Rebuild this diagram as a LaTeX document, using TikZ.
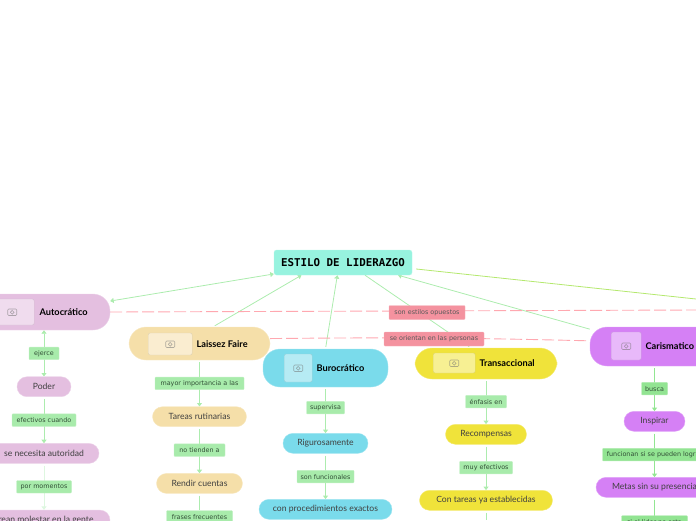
\documentclass[tikz,border=0pt]{standalone}
\usepackage{fontspec}
\setmainfont{Lato}
\newfontfamily\titlefont{DejaVu Sans Mono}
\newfontfamily\labelfont{DejaVu Sans}
\usetikzlibrary{arrows.meta,positioning,backgrounds}
\definecolor{titlecol}{RGB}{151,243,223}
\definecolor{autocol}{RGB}{228,191,224}
\definecolor{laissezcol}{RGB}{245,223,169}
\definecolor{burocol}{RGB}{122,219,235}
\definecolor{transcol}{RGB}{240,227,58}
\definecolor{cariscol}{RGB}{213,128,245}
\definecolor{labelcol}{RGB}{168,235,171}
\definecolor{labeldark}{RGB}{146,228,146}
\definecolor{linkcol}{RGB}{172,236,174}
\definecolor{linkdark}{RGB}{146,230,146}
\definecolor{linkpale}{RGB}{222,247,224}
\definecolor{outercol}{RGB}{180,232,110}
\definecolor{pinkcol}{RGB}{244,146,159}
\definecolor{dashcol}{RGB}{255,168,176}
\definecolor{labeltext}{RGB}{50,80,55}
\tikzset{
	head/.style={draw=#1!70!white, fill=#1, rounded corners=17pt, inner sep=0pt},
	sub/.style={draw=#1!70!white, fill=#1, rounded corners=10pt, minimum height=20pt, inner sep=0pt, font=\fontsize{8.6}{10}\selectfont, text=black!75},
	link/.style={draw=labelcol!70!white, fill=labelcol, minimum height=12.5pt, inner sep=0pt, rounded corners=0.8pt, font=\labelfont\fontsize{6.4}{8}\selectfont, text=labeltext},
	linkd/.style={link, fill=labeldark, draw=labeldark!70!white},
	pinklabel/.style={draw=pinkcol!70!white, fill=pinkcol, minimum height=14pt, inner sep=0pt, rounded corners=0.8pt, font=\labelfont\fontsize{6.4}{8}\selectfont, text=black!65},
	iconbox/.style={draw=#1!85!black!70!white, fill=#1!55!white, rounded corners=2pt, inner sep=0pt,
		path picture={\draw[#1!45!black!55!white, line width=0.6pt, rounded corners=1pt, shift={(path picture bounding box.center)}] (-4.5,-3) rectangle (4.5,3.5) (0,0.3) circle (1.9);}},
	headtext/.style={font=\bfseries\fontsize{9.2}{11}\selectfont, text=black, inner sep=0pt},
	conn/.style={draw=linkcol, line width=0.8pt, -{Triangle[width=5pt,length=3.5pt]}, shorten <=2pt},
	conndark/.style={conn, draw=linkdark},
	oppos/.style={draw=dashcol, line width=0.9pt, dash pattern=on 12pt off 4pt},
}
\begin{document}
\begin{tikzpicture}[x=1pt, y=-1pt, node distance=16.7pt]
	\useasboundingbox (0,0) rectangle (696,520);
	\clip (0,0) rectangle (696,520);
	\node[draw=titlecol!70!white, fill=titlecol, rounded corners=2.5pt, minimum width=138pt, minimum height=25pt, inner sep=0pt, font=\titlefont\bfseries\fontsize{10.8}{12}\selectfont] (title) at (343,262.5) {ESTILO DE LIDERAZGO};

	\node[head=autocol, minimum width=132pt, minimum height=36pt] (auto) at (44,312) {};
	\node[iconbox=autocol, minimum width=44pt, minimum height=26pt, anchor=west] (autoicon) at (-10,312) {};
	\node[headtext] (autotext) [right=5pt of autoicon] {Autocrático};
	\node[link, minimum width=30pt] (ejerce) [below=of auto] {ejerce};
	\node[sub=autocol, minimum width=54pt] (poder) [below=of ejerce] {Poder};
	\node[link, minimum width=64pt] (efectivos) [below=of poder] {efectivos cuando};
	\node[sub=autocol, minimum width=110pt] (autoridad) [below=of efectivos] {se necesita autoridad};
	\node[link, minimum width=55pt] (momentos) [below=of autoridad] {por momentos};
	\node[sub=autocol, minimum width=132pt] (molestar) [below=of momentos] {crean molestar en la gente};

	\node[head=laissezcol, minimum width=141pt, minimum height=33pt] (laissez) at (199.5,343.5) {};
	\node[iconbox=laissezcol, minimum width=44pt, minimum height=22pt, anchor=west] (laissezicon) at (148,344) {};
	\node[headtext] (laisseztext) [right=4pt of laissezicon] {Laissez Faire};
	\node[link, minimum width=89pt] (mayor) [below=of laissez] {mayor importancia a las};
	\node[sub=laissezcol, minimum width=94pt] (tareas) [below=of mayor] {Tareas rutinarias};
	\node[link, minimum width=51pt] (tienden) [below=of tareas] {no tienden a};
	\node[sub=laissezcol, minimum width=86pt] (rendir) [below=of tienden] {Rendir cuentas};
	\node[link, minimum width=66pt] (frases) [below=of rendir] {frases frecuentes};

	\node[head=burocol, minimum width=125pt, minimum height=38pt] (buro) at (325.5,368) {};
	\node[iconbox=burocol, minimum width=28pt, minimum height=28pt, anchor=west] (buroicon) at (284,368) {};
	\node[headtext] (burotext) [right=4pt of buroicon] {Burocrático};
	\node[link, minimum width=38pt] (supervisa) [below=14pt of buro] {supervisa};
	\node[sub=burocol, minimum width=85pt] (riguroso) [below=19pt of supervisa] {Rigurosamente};
	\node[link, minimum width=57pt] (funcionales) [below=of riguroso] {son funcionales};
	\node[sub=burocol, minimum width=133pt] (procedimientos) [below=16pt of funcionales] {con procedimientos exactos};

	\node[head=transcol, minimum width=142pt, minimum height=31pt] (trans) at (486,363.5) {};
	\node[iconbox=transcol, minimum width=42pt, minimum height=20pt, anchor=west] (transicon) at (433,363) {};
	\node[headtext] (transtext) [right=4pt of transicon] {Transaccional};
	\node[link, minimum width=41pt] (enfasis) [below=16pt of trans] {énfasis en};
	\node[sub=transcol, minimum width=81pt] (recompensas) [below=16pt of enfasis] {Recompensas};
	\node[link, minimum width=53pt] (muy) [below=of recompensas] {muy efectivos};
	\node[sub=transcol, minimum width=133pt] (establecidas) [below=16pt of muy] {Con tareas ya establecidas};

	\node[head=cariscol, minimum width=129pt, minimum height=39pt] (caris) at (654.5,346.5) {};
	\node[iconbox=cariscol, minimum width=30pt, minimum height=28pt, anchor=west] (carisicon) at (611,346) {};
	\node[headtext] (caristext) [right=4pt of carisicon] {Carismatico};
	\node[linkd, minimum width=26pt] (busca) [below=16pt of caris] {busca};
	\node[sub=cariscol, minimum width=61pt] (inspirar) [below=16pt of busca] {Inspirar};
	\node[linkd, minimum width=104pt] (logran) [below=of inspirar] {funcionan si se pueden lograr};
	\node[sub=cariscol, minimum width=117pt] (metas) [below=16pt of logran] {Metas sin su presencia};
	\node[linkd, minimum width=66pt] (ausente) [below=18pt of metas] {si el lider no esta};

	\node[pinklabel, minimum width=76pt] (opuestos) at (427,312.5) {son estilos opuestos};
	\node[pinklabel, minimum width=100pt] (personas) at (434,339) {se orientan en las personas};

	\coordinate (dashend) at (696,310);
	\coordinate (outerend) at (696,299);
	\coordinate (transend) at (486,520);

	\begin{scope}[on background layer]
		\draw[conn, {Triangle[width=5pt,length=3.5pt]}-{Triangle[width=5pt,length=3.5pt]}, shorten <=0pt] (auto) -- (title);
		\draw[conn] (laissez.51) -- (title.197);
		\draw[conn] (buro.90) -- (title.246);
		\draw[conn, -] (trans.134) -- (title.330);
		\draw[conn, shorten <=0pt] (caris.165) -- (title.347);
		\draw[draw=outercol, line width=0.8pt, shorten <=4pt] (title.355) -- (outerend);
		\draw[oppos] (auto.east) -- (dashend);
		\draw[oppos] (laissez.4) to[bend left=1] (caris.175);

		\draw[conn, {Triangle[width=5pt,length=3.5pt]}-{Triangle[width=5pt,length=3.5pt]}, shorten <=0pt] (auto) -- (poder);
		\draw[conn] (poder) -- (autoridad);
		\draw[conn, draw=linkpale] (autoridad) -- (molestar);
		\draw[conn] (laissez) -- (tareas);
		\draw[conn] (tareas) -- (rendir);
		\draw[conn, -] (rendir) -- (frases);
		\draw[conn] (buro) -- (riguroso);
		\draw[conn] (riguroso) -- (procedimientos);
		\draw[conn] (trans) -- (recompensas);
		\draw[conn] (recompensas) -- (establecidas);
		\draw[conn, -] (establecidas) -- (transend);
		\draw[conndark] (caris) -- (inspirar);
		\draw[conndark] (inspirar) -- (metas);
		\draw[conndark, -] (metas) -- (ausente);
	\end{scope}
\end{tikzpicture}
\end{document}
